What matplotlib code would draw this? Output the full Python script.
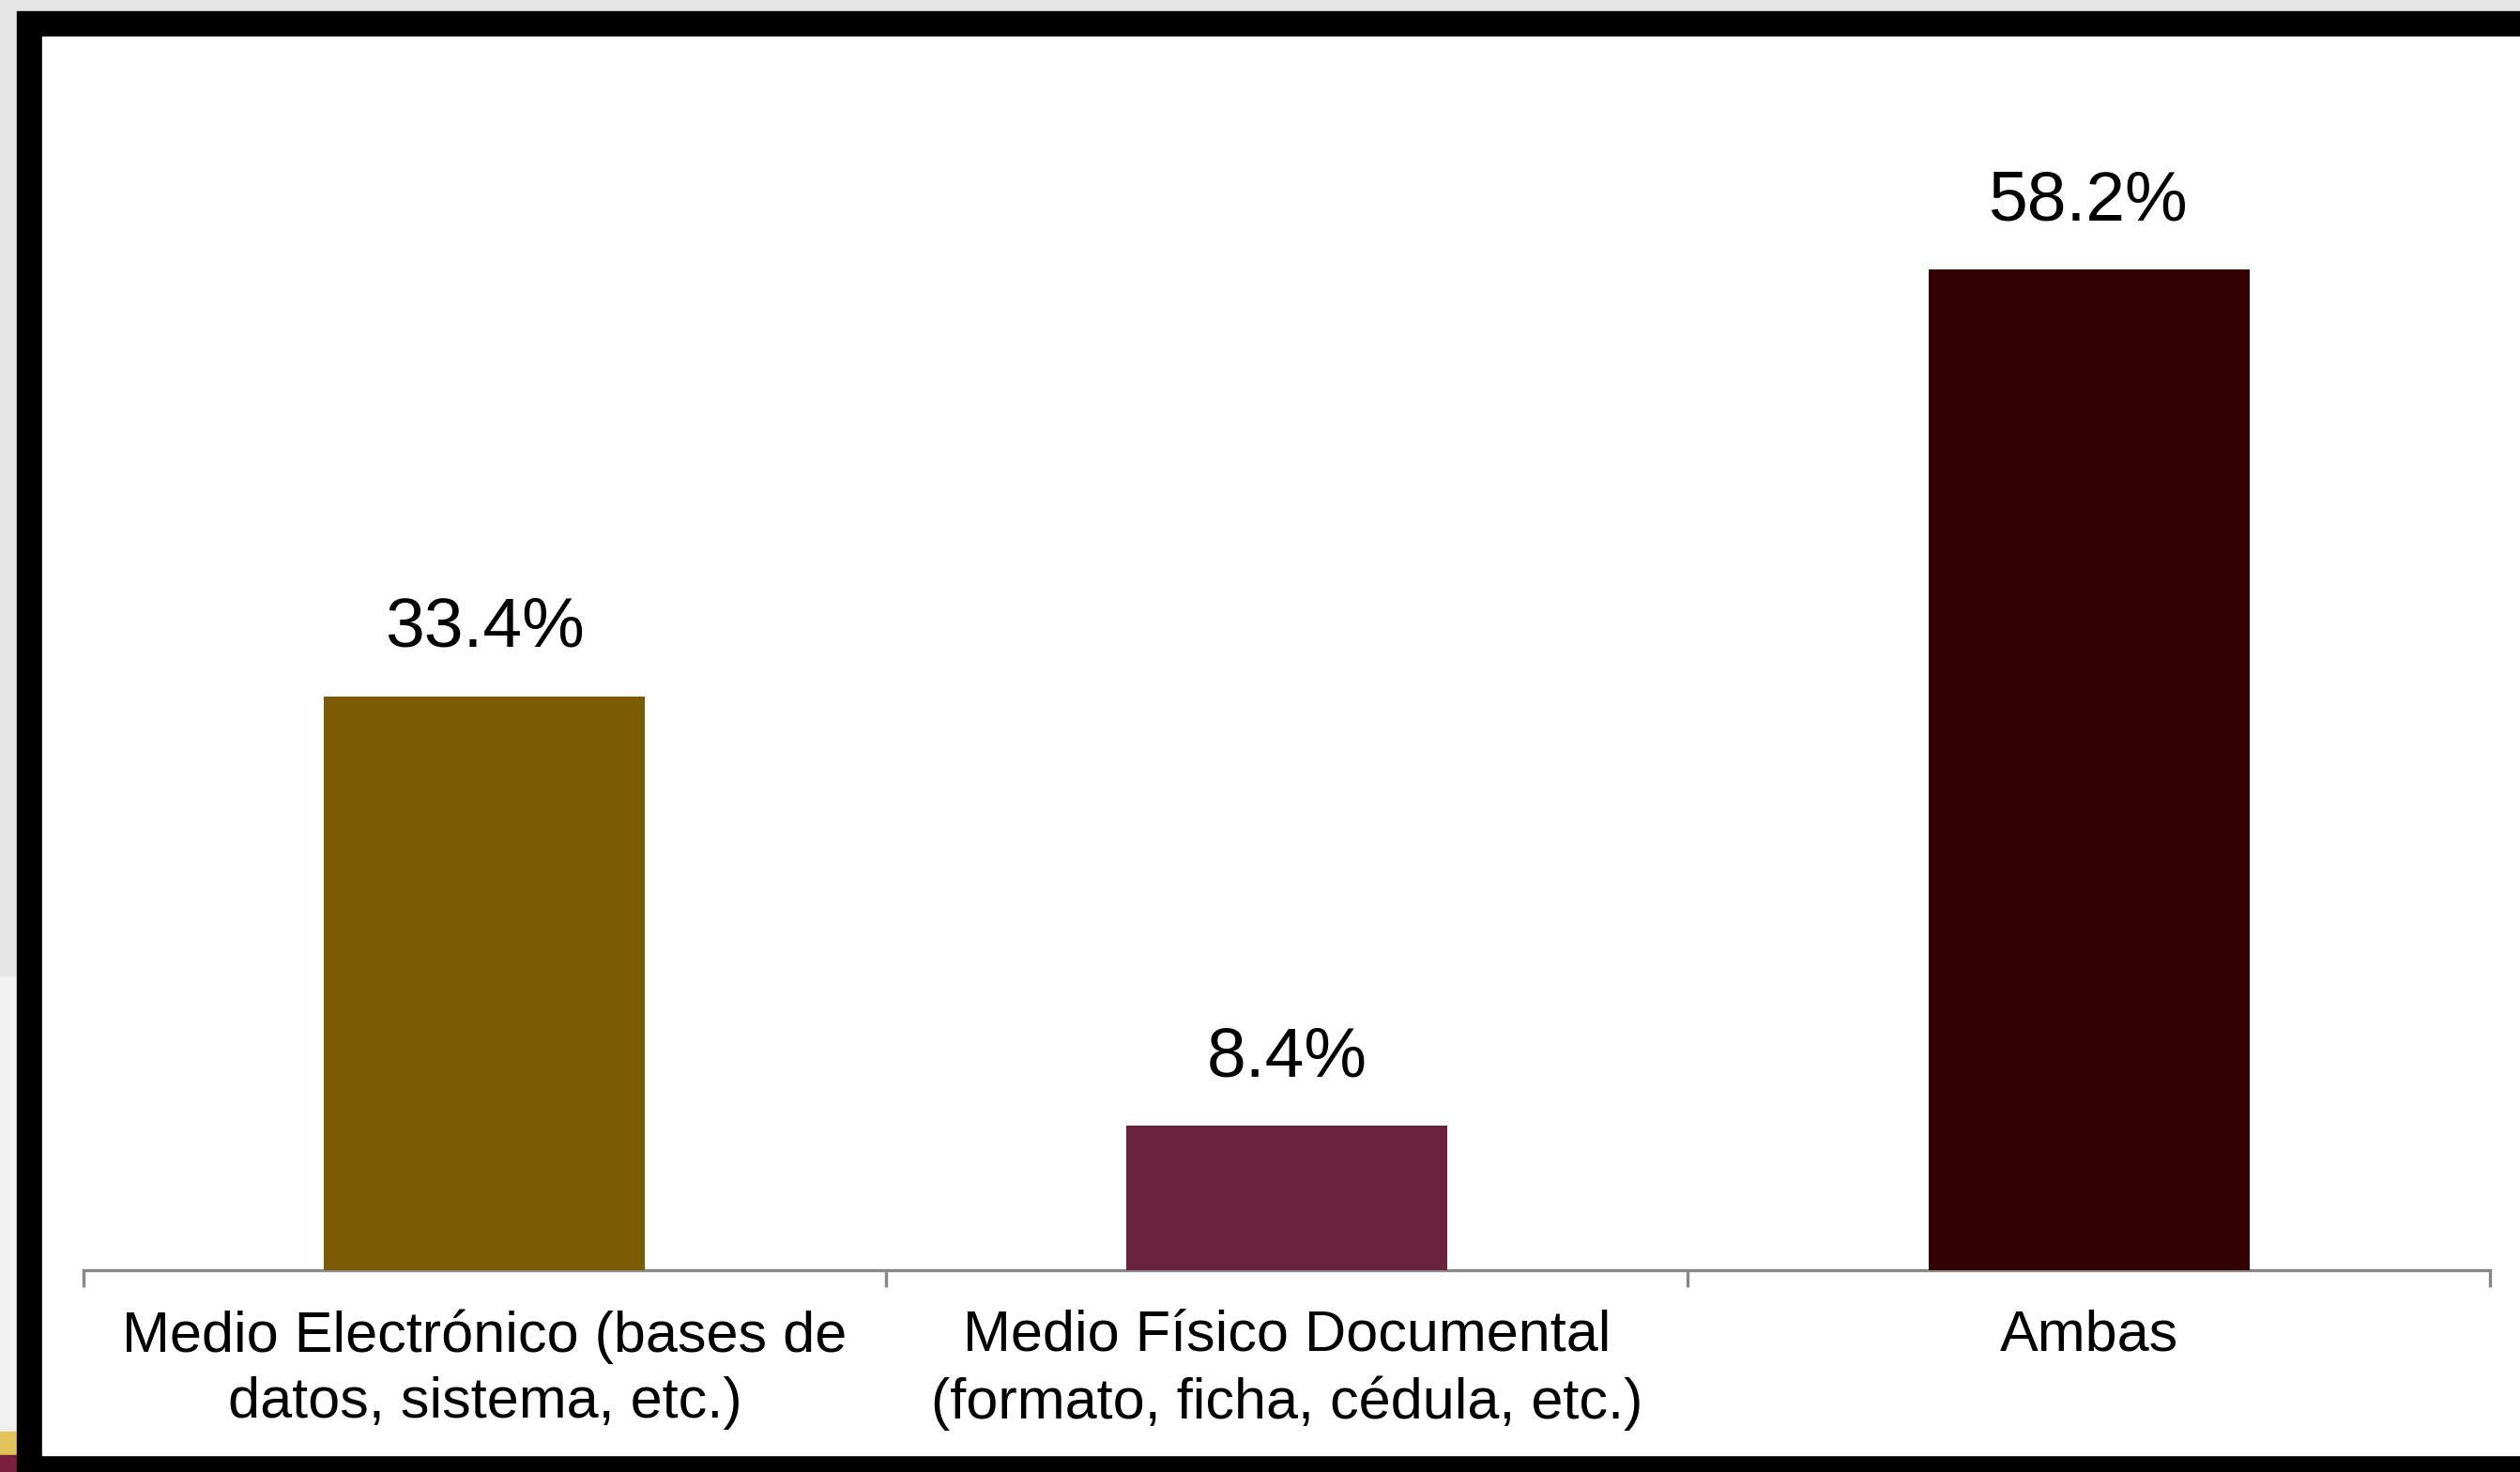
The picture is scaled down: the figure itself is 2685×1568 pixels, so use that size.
import matplotlib
matplotlib.use("Agg")
import matplotlib.pyplot as plt
from matplotlib.patches import Rectangle

# data
categories = [
    "Medio Electrónico (bases de\ndatos, sistema, etc.)",
    "Medio Físico Documental\n(formato, ficha, cédula, etc.)",
    "Ambas",
]
values = [33.4, 8.4, 58.2]
value_labels = ["33.4%", "8.4%", "58.2%"]
bar_colors = ["#7b5c04", "#6b223d", "#320002"]

W, H = 2685, 1568
plt.rcParams["font.family"] = ["Liberation Sans", "DejaVu Sans"]

fig = plt.figure(figsize=(W / 100, H / 100), dpi=100, facecolor="#e6e6e6")

# slide background / frame
def px_rect(x0, y0, x1, y1, color, z):
    # pixel coords measured from top-left
    fig.patches.append(Rectangle((x0 / W, 1 - y1 / H), (x1 - x0) / W, (y1 - y0) / H,
                                 transform=fig.transFigure, color=color, zorder=z))

px_rect(0, 1040, 18, 1525, "#f0f0f0", 0)
px_rect(0, 1525, 18, 1550, "#e2c35a", 0)
px_rect(0, 1550, 18, 1568, "#7a1f3d", 0)
px_rect(18, 12, W, H, "#000000", 1)
px_rect(45, 39, W, 1550, "#ffffff", 2)

ax = fig.add_axes([89 / W, 215 / H, 2564 / W, 1190 / H])
ax.set_facecolor("none")
ax.set_zorder(3)

x = list(range(len(categories)))
bars = ax.bar(x, values, width=0.4, color=bar_colors, zorder=3)

for xi, v, lab in zip(x, values, value_labels):
    ax.annotate(lab, (xi, v), xytext=(0, 38), textcoords="offset points",
                ha="center", va="baseline", fontsize=54, color="black")

ax.set_xlim(-0.5, 2.5)
ax.set_ylim(0, 65)

for s in ["top", "right", "left"]:
    ax.spines[s].set_visible(False)
ax.spines["bottom"].set_color("#888888")
ax.spines["bottom"].set_linewidth(2.4)

ax.set_yticks([])
ax.set_xticks(x)
ax.set_xticklabels(categories, fontsize=44, linespacing=1.3)
ax.tick_params(axis="x", which="major", length=0, pad=30, colors="black")
ax.set_xticks([-0.5, 0.5, 1.5, 2.5], minor=True)
ax.tick_params(axis="x", which="minor", length=13, width=2.4, color="#888888", direction="out")

fig.savefig("out.png", dpi=100, facecolor=fig.get_facecolor())
